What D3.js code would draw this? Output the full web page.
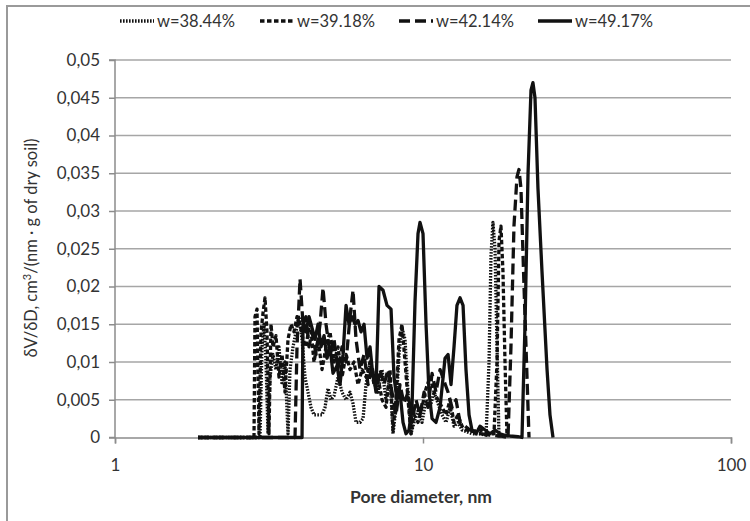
<!DOCTYPE html>
<html><head><meta charset="utf-8">
<script src="https://cdn.jsdelivr.net/npm/d3@7"></script>
<style>
body{margin:0;background:#fff}
svg{display:block}
text{font-family:Lato,"Liberation Sans",sans-serif;fill:#333}
</style>
</head><body>
<svg id="c" width="750" height="521"></svg>
<script>
// ---- data (pore diameter nm, dV/dD) ----
const seriesNames = ["w=38.44%", "w=39.18%", "w=42.14%", "w=49.17%"];
const xTicks = [1, 10, 100];
const yTicks = [0, 0.005, 0.01, 0.015, 0.02, 0.025, 0.03, 0.035, 0.04, 0.045, 0.05];

const w3844 = [[1.860,0],[2.957,0],[3.001,0.012],[3.047,0.015],[3.092,0.010],[3.139,0.0005],[3.186,0.008],[3.258,0.011],[3.332,0.009],[3.407,0.012],[3.486,0.007],[3.564,0.010],[3.645,0.0005],[3.700,0.009],[3.784,0.012],[3.870,0.014],[3.958,0.016],[4.048,0.013],[4.139,0.008],[4.233,0.006],[4.329,0.004],[4.427,0.003],[4.562,0.003],[4.701,0.003],[4.807,0.004],[4.916,0.0065],[5.027,0.005],[5.141,0.0055],[5.299,0.008],[5.459,0.006],[5.625,0.005],[5.795,0.006],[5.926,0.0045],[6.061,0.002],[6.245,0.002],[6.387,0.0025],[6.532,0.007],[6.730,0.010],[6.934,0.008],[7.144,0.006],[7.361,0.009],[7.584,0.005],[7.815,0.008],[7.992,0.0005],[8.173,0.004],[8.358,0.011],[8.548,0.0145],[8.742,0.013],[8.940,0.006],[9.143,0.0005],[9.350,0.002],[9.634,0.0035],[9.926,0.002],[10.23,0.005],[10.54,0.004],[10.86,0.006],[11.19,0.0045],[11.53,0.003],[11.88,0.002],[12.24,0.004],[12.61,0.0015],[12.99,0.002],[13.39,0.001],[13.79,0.0008],[14.42,0.0005],[15.31,0.0005],[16.02,0.0003],[16.38,0.010],[16.62,0.024],[16.87,0.0285],[17.13,0.025],[17.39,0.012],[17.65,0]];

const w3918 = [[1.860,0],[2.827,0],[2.848,0.0160],[2.891,0.0170],[2.934,0.0005],[2.979,0.0140],[3.024,0.0165],[3.069,0.0185],[3.115,0.0140],[3.162,0.0005],[3.210,0.0150],[3.258,0.0120],[3.332,0.0135],[3.407,0.0080],[3.486,0.0110],[3.564,0.0060],[3.645,0.0130],[3.728,0.0150],[3.812,0.0140],[3.899,0.0160],[3.988,0.0150],[4.078,0.0130],[4.170,0.0120],[4.297,0.0155],[4.427,0.0100],[4.562,0.0130],[4.701,0.0090],[4.843,0.0120],[4.990,0.0140],[5.141,0.0100],[5.299,0.0120],[5.459,0.0080],[5.625,0.0110],[5.795,0.0090],[5.971,0.0100],[6.152,0.0070],[6.339,0.0090],[6.532,0.0080],[6.730,0.0100],[6.934,0.0070],[7.144,0.0080],[7.361,0.0050],[7.584,0.0040],[7.815,0.0090],[7.992,0.0010],[8.173,0.0050],[8.358,0.0130],[8.548,0.0150],[8.742,0.0100],[8.940,0.0050],[9.143,0.0005],[9.350,0.0030],[9.634,0.0020],[9.926,0.0040],[10.23,0.0065],[10.54,0.0080],[10.86,0.0060],[11.19,0.0050],[11.53,0.0040],[11.88,0.0030],[12.24,0.0050],[12.61,0.0020],[12.99,0.0030],[13.39,0.0015],[13.79,0.0010],[14.42,0.0008],[15.31,0.0010],[16.26,0.0005],[17.00,0.0005],[17.39,0.010],[17.65,0.026],[17.91,0.028],[18.18,0.022],[18.46,0.010],[18.74,0]];

const w4214 = [[1.860,0],[3.841,0],[3.899,0.012],[3.988,0.0210],[4.078,0.0150],[4.170,0.0160],[4.265,0.0120],[4.362,0.0140],[4.494,0.0110],[4.631,0.0150],[4.736,0.0198],[4.843,0.0150],[4.990,0.0110],[5.141,0.0130],[5.299,0.0090],[5.459,0.0120],[5.625,0.0100],[5.795,0.0160],[5.926,0.0195],[6.061,0.0130],[6.245,0.0090],[6.435,0.0110],[6.630,0.0070],[6.831,0.0095],[7.038,0.0060],[7.252,0.0090],[7.472,0.0070],[7.699,0.0090],[7.933,0.0060],[8.173,0.0030],[8.421,0.0070],[8.677,0.0045],[8.940,0.0060],[9.212,0.0020],[9.491,0.0050],[9.779,0.0030],[10.08,0.0060],[10.38,0.0040],[10.70,0.0085],[11.02,0.0060],[11.36,0.0090],[11.70,0.0075],[12.06,0.0060],[12.42,0.0040],[12.80,0.0050],[13.19,0.0020],[13.69,0.0015],[14.21,0.0010],[15.31,0.0005],[16.50,0.0003],[17.78,0.0002],[18.88,0],[19.30,0.012],[19.74,0.028],[20.19,0.0345],[20.49,0.0355],[20.80,0.033],[21.28,0.020],[21.76,0.008],[22.09,0]];

const w4917 = [[1.860,0],[3.988,0],[4.048,0],[4.078,0.0155],[4.170,0.0140],[4.265,0.0160],[4.362,0.0145],[4.461,0.0130],[4.562,0.0150],[4.666,0.0120],[4.772,0.0135],[4.879,0.0105],[4.990,0.0120],[5.103,0.0085],[5.259,0.0095],[5.378,0.0070],[5.500,0.0110],[5.625,0.0175],[5.752,0.0150],[5.882,0.0160],[6.016,0.0150],[6.152,0.0155],[6.292,0.0140],[6.435,0.0150],[6.581,0.0105],[6.730,0.0120],[6.883,0.0080],[7.038,0.0065],[7.198,0.0200],[7.416,0.0195],[7.641,0.0175],[7.874,0.0170],[8.052,0.0080],[8.234,0.0050],[8.421,0.0060],[8.612,0.0020],[8.808,0.0005],[9.007,0.0010],[9.212,0.0040],[9.420,0.0180],[9.634,0.0270],[9.779,0.0285],[10.00,0.0270],[10.23,0.0150],[10.46,0.0060],[10.70,0.0025],[11.02,0.0020],[11.36,0.0040],[11.79,0.0105],[12.06,0.0110],[12.33,0.0070],[12.61,0.0120],[12.89,0.0175],[13.19,0.0185],[13.49,0.0175],[13.79,0.0090],[14.11,0.0030],[14.42,0.0010],[14.86,0.0005],[15.31,0.0015],[15.90,0.0010],[16.50,0.0005],[17.13,0.0010],[17.78,0.0005],[18.46,0.0003],[19.16,0.0002],[20.34,0.0001],[20.96,0],[21.44,0.015],[21.93,0.035],[22.42,0.046],[22.75,0.047],[23.10,0.045],[23.62,0.033],[24.34,0.022],[25.28,0.009],[25.84,0.003],[26.43,0]];

const seriesData = [w3844, w3918, w4214, w4917];
const dashes = ["1.6,1.4", "4.5,2.5", "11,5", null];

// ---- drawing ----
const svg = d3.select("#c");
const x = d3.scaleLog().domain([1, 100]).range([115, 731]);
const y = d3.scaleLinear().domain([0, 0.05]).range([437.5, 60]);

// outer frame
svg.append("rect").attr("x", 7).attr("y", 6).attr("width", 770).attr("height", 540)
  .attr("fill", "none").attr("stroke", "#9a9a9a").attr("stroke-width", 2);

// gridlines
svg.append("g").selectAll("line").data(yTicks.filter(d => d > 0)).join("line")
  .attr("x1", x(1)).attr("x2", x(100))
  .attr("y1", d => y(d)).attr("y2", d => y(d))
  .attr("stroke", "#a6a6a6").attr("stroke-width", 1.4);

const fmt = d => d === 0 ? "0" : String(d).replace(".", ",");

const yAxis = svg.append("g").attr("transform", `translate(${x(1)},0)`)
  .call(d3.axisLeft(y).tickValues(yTicks).tickFormat(fmt).tickSize(6).tickPadding(9));
const xAxis = svg.append("g").attr("transform", `translate(0,${y(0)})`)
  .call(d3.axisBottom(x).tickValues(xTicks).tickFormat(d3.format("d")).tickSize(6).tickPadding(15));
[yAxis, xAxis].forEach(a => {
  a.select(".domain").attr("stroke", "#8c8c8c").attr("stroke-width", 1.5);
  a.selectAll(".tick line").attr("stroke", "#8c8c8c").attr("stroke-width", 1.5);
  a.selectAll(".tick text").attr("font-size", 17).attr("fill", "#333")
    .attr("font-family", "Lato, 'Liberation Sans', sans-serif");
});
yAxis.select(".domain").attr("d", `M-6,${y(0.05)}H0V${y(0)}H-6`).attr("fill", "none");

// series
const line = d3.line().x(d => x(d[0])).y(d => y(d[1]));
svg.append("g").selectAll("path").data(seriesData).join("path")
  .attr("d", line)
  .attr("fill", "none")
  .attr("stroke", "#111")
  .attr("stroke-width", 3.3)
  .attr("stroke-linejoin", "round")
  .attr("stroke-dasharray", (d, i) => dashes[i]);

// axis titles
svg.append("text").attr("x", 421).attr("y", 503).attr("text-anchor", "middle")
  .attr("font-size", 17.5).attr("font-weight", "bold").text("Pore diameter, nm");
const yt = svg.append("text").attr("transform", "translate(37,248) rotate(-90)")
  .attr("text-anchor", "middle").attr("font-size", 16.5);
yt.append("tspan").text("\u03b4V/\u03b4D, cm");
yt.append("tspan").attr("font-size", 11).attr("dy", -6).text("3");
yt.append("tspan").attr("dy", 6).text("/(nm \u00b7 g of dry soil)");

// legend
const legX = [120, 260, 399, 538];
const leg = svg.append("g").selectAll("g").data(seriesNames).join("g")
  .attr("transform", (d, i) => `translate(${legX[i]},21)`);
leg.append("line").attr("x1", 0).attr("x2", 34).attr("y1", 0).attr("y2", 0)
  .attr("stroke", "#111").attr("stroke-width", 3.3)
  .attr("stroke-dasharray", (d, i) => dashes[i]);
leg.append("text").attr("x", 37).attr("y", 6).attr("font-size", 16.5).text(d => d);
</script>
</body></html>
